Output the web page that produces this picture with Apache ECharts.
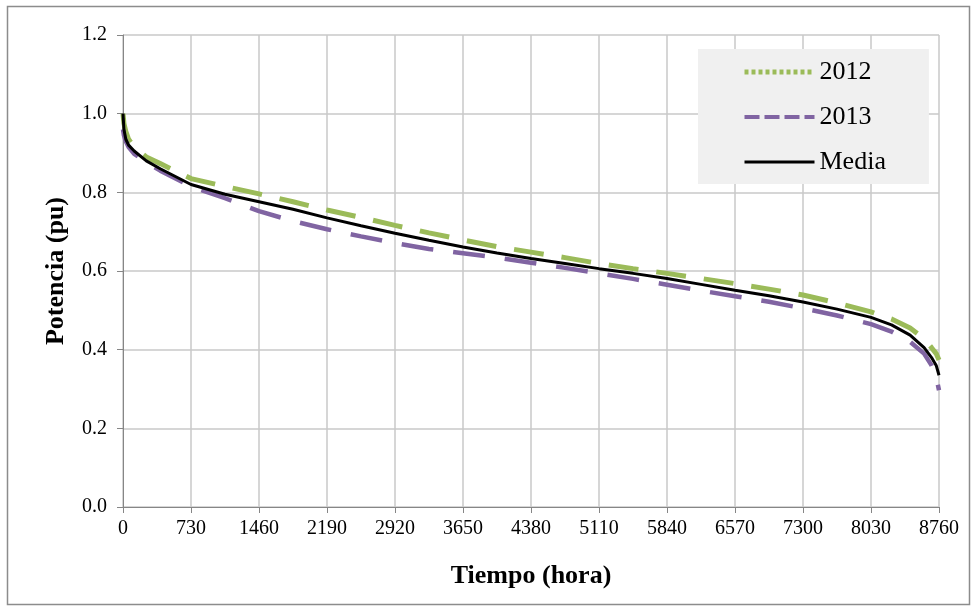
<!DOCTYPE html>
<html>
<head>
<meta charset="utf-8">
<script src="https://cdn.jsdelivr.net/npm/echarts@6/dist/echarts.min.js"></script>
<style>
  html, body { margin: 0; padding: 0; background: #fff; }
  #grafico { width: 977px; height: 610px; }
</style>
</head>
<body>
<div id="grafico"></div>
<script>
// Horas (eje x) y potencia en pu para cada año
const horas = [0, 10, 30, 60, 120, 250, 400, 730, 1095, 1460, 1825, 2190, 2555, 2920, 3285, 3650,
  4015, 4380, 4745, 5110, 5475, 5840, 6205, 6570, 6935, 7300, 7665, 8030, 8250, 8450, 8600, 8680, 8730, 8760];

const pot2012 = [1.0, 0.975, 0.955, 0.935, 0.915, 0.89, 0.873, 0.835, 0.815, 0.796, 0.776, 0.755, 0.736, 0.716, 0.697, 0.679,
  0.662, 0.648, 0.634, 0.619, 0.606, 0.594, 0.581, 0.568, 0.554, 0.539, 0.519, 0.496, 0.478, 0.455, 0.428, 0.405, 0.39, 0.374];

const pot2013 = [0.96, 0.945, 0.93, 0.915, 0.898, 0.877, 0.855, 0.815, 0.785, 0.752, 0.727, 0.706, 0.688, 0.671, 0.656, 0.645,
  0.634, 0.621, 0.608, 0.594, 0.58, 0.565, 0.55, 0.536, 0.522, 0.505, 0.487, 0.465, 0.446, 0.42, 0.39, 0.36, 0.33, 0.297];

const potMedia = [1.0, 0.96, 0.935, 0.92, 0.905, 0.88, 0.86, 0.82, 0.795, 0.776, 0.757, 0.735, 0.715, 0.696, 0.678, 0.661,
  0.646, 0.632, 0.619, 0.606, 0.594, 0.581, 0.566, 0.551, 0.537, 0.521, 0.503, 0.482, 0.463, 0.437, 0.405, 0.38, 0.36, 0.335];

const nombres = ['2012', '2013', 'Media'];

const fuente = 'Liberation Serif, Times New Roman, serif';

function pares(valores) {
  return horas.map((h, i) => [h, valores[i]]);
}

const chart = echarts.init(document.getElementById('grafico'));

chart.setOption({
  animation: false,
  backgroundColor: '#fff',
  graphic: [{
    type: 'rect',
    shape: { x: 7.5, y: 6.5, width: 962, height: 598 },
    style: { fill: 'none', stroke: '#8c8c8c', lineWidth: 1.5 },
    silent: true
  }],
  grid: { left: 123, right: 38, top: 35, bottom: 103 },
  legend: {
    orient: 'vertical',
    left: 698,
    top: 49,
    padding: [10, 43, 9, 44],
    backgroundColor: '#f0f0f0',
    itemWidth: 70,
    itemHeight: 14,
    itemGap: 19,
    itemStyle: { opacity: 0 },
    textStyle: { fontFamily: fuente, fontSize: 26, color: '#000', lineHeight: 24 },
    data: [
      { name: '2012', itemStyle: { opacity: 0 }, lineStyle: { color: '#9BBB59', width: 5, type: [4, 3] } },
      { name: '2013', itemStyle: { opacity: 0 }, lineStyle: { color: '#8064A2', width: 4, type: [15, 5] } },
      { name: 'Media', itemStyle: { opacity: 0 }, lineStyle: { color: '#000', width: 3, type: 'solid' } }
    ]
  },
  xAxis: {
    type: 'value',
    min: 0,
    max: 8760,
    interval: 730,
    name: 'Tiempo (hora)',
    nameLocation: 'middle',
    nameGap: 56,
    nameTextStyle: { fontFamily: fuente, fontSize: 26, fontWeight: 'bold', color: '#000' },
    axisLine: { show: true, lineStyle: { color: '#868686', width: 1 } },
    axisTick: { show: true, length: 6, lineStyle: { color: '#868686' } },
    axisLabel: { fontFamily: fuente, fontSize: 20, color: '#000', margin: 12, formatter: v => String(v) },
    splitLine: { show: true, lineStyle: { color: '#c8c8c8', width: 1.5 } }
  },
  yAxis: {
    type: 'value',
    min: 0,
    max: 1.2,
    interval: 0.2,
    name: 'Potencia (pu)',
    nameLocation: 'middle',
    nameGap: 54,
    nameTextStyle: { fontFamily: fuente, fontSize: 26, fontWeight: 'bold', color: '#000' },
    axisLine: { show: true, lineStyle: { color: '#868686', width: 1 } },
    axisTick: { show: true, length: 6, lineStyle: { color: '#868686' } },
    axisLabel: {
      fontFamily: fuente, fontSize: 20, color: '#000', margin: 16,
      formatter: v => v.toFixed(1)
    },
    splitLine: { show: true, lineStyle: { color: '#c8c8c8', width: 1.5 } }
  },
  series: [
    {
      name: nombres[0],
      type: 'line',
      data: pares(pot2012),
      symbol: 'none',
      lineStyle: { color: '#9BBB59', width: 5, type: [30, 18] },
      itemStyle: { color: '#9BBB59' }
    },
    {
      name: nombres[1],
      type: 'line',
      data: pares(pot2013),
      symbol: 'none',
      lineStyle: { color: '#8064A2', width: 4.5, type: [32, 20] },
      itemStyle: { color: '#8064A2' }
    },
    {
      name: nombres[2],
      type: 'line',
      data: pares(potMedia),
      symbol: 'none',
      lineStyle: { color: '#000', width: 3 },
      itemStyle: { color: '#000' }
    }
  ]
});
</script>
</body>
</html>
